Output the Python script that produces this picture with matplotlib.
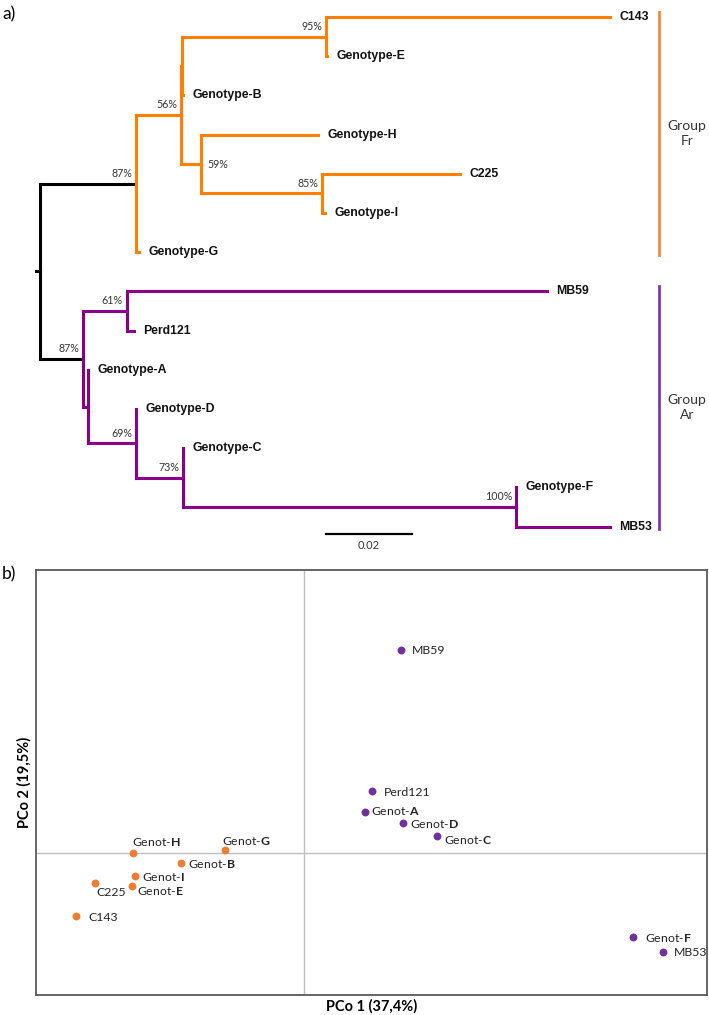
import matplotlib.pyplot as plt

plt.rcParams['mathtext.fontset'] = 'custom'
plt.rcParams['mathtext.rm'] = 'Lato'
plt.rcParams['mathtext.bf'] = 'Lato:bold'

# ---- a) neighbour-joining tree: (name, branch length, support, children)
tree = ("root", 0.001, "", [
    ("fr", 0.0223, "87", [
        ("n56", 0.0105, "56", [
            ("nB", 0.0003, "", [
                ("n95", 0.0334, "95", [("C143", 0.0660, "", []),
                                       ("Genotype-E", 0.0002, "", [])]),
                ("Genotype-B", 0.0002, "", [])]),
            ("n59", 0.0047, "59", [
                ("Genotype-H", 0.0272, "", []),
                ("n85", 0.0281, "85", [("C225", 0.0321, "", []),
                                       ("Genotype-I", 0.0007, "", [])])])]),
        ("Genotype-G", 0.0007, "", [])]),
    ("ar", 0.0100, "87", [
        ("n61", 0.0102, "61", [("MB59", 0.0977, "", []),
                               ("Perd121", 0.0016, "", [])]),
        ("nA", 0.0012, "", [
            ("Genotype-A", 0.0, "", []),
            ("n69", 0.0112, "69", [
                ("Genotype-D", 0.0, "", []),
                ("n73", 0.0109, "73", [
                    ("Genotype-C", 0.0, "", []),
                    ("n100", 0.0774, "100", [("Genotype-F", 0.0, "", []),
                                             ("MB53", 0.0219, "", [])])])])])]),
])
groups = ["Group\nFr", "Group\nAr"]
group_tips = [("C143", "Genotype-G"), ("MB59", "MB53")]
scale_len = 0.02

# ---- b) PCoA coordinates
orange_names = ["Genot-H", "Genot-G", "Genot-B", "Genot-I", "Genot-E", "C225", "C143"]
orange_x = [-0.171, -0.079, -0.123, -0.169, -0.172, -0.209, -0.228]
orange_y = [0.000, 0.003, -0.010, -0.023, -0.033, -0.030, -0.063]
purple_names = ["MB59", "Perd121", "Genot-A", "Genot-D", "Genot-C", "Genot-F", "MB53"]
purple_x = [0.097, 0.068, 0.061, 0.099, 0.133, 0.329, 0.359]
purple_y = [0.203, 0.062, 0.041, 0.030, 0.017, -0.084, -0.099]

TREE_OR = "#FF8000"
TREE_PU = "#8B008B"
PT_OR = "#ED7D31"
PT_PU = "#7030A0"

W, H = 709, 1015
fig = plt.figure(figsize=(W / 100, H / 100), dpi=100)

# top axes, x in substitutions/site, y in tip index
ax = fig.add_axes([0, 1 - 560 / H, 1, 560 / H])
ax.set_xlim(-40 / 4300, 669 / 4300)
ax.set_ylim((560 - 17) / 39.2, -17 / 39.2)
ax.axis("off")

tip_y = {}
counter = [0]


def layout(node, x0):
    name, bl, sup, kids = node
    x = x0 + bl
    pos = {"x": x, "kids": []}
    if not kids:
        pos["y"] = counter[0]
        tip_y[name] = counter[0]
        counter[0] += 1
    else:
        for k in kids:
            pos["kids"].append(layout(k, x))
        pos["y"] = (pos["kids"][0]["y"] + pos["kids"][-1]["y"]) / 2
    pos["node"] = node
    pos["x0"] = x0
    return pos


LW = 2.2


def draw(p, color, branch_color):
    name, bl, sup, kids = p["node"]
    ax.plot([p["x0"], p["x"]], [p["y"], p["y"]], color=branch_color, lw=LW,
            solid_capstyle="projecting")
    if not kids:
        ax.annotate(name, (p["x"], p["y"]), xytext=(6.8, 0), textcoords="offset points",
                    ha="left", va="center", fontsize=8.8, fontweight="bold",
                    family="Liberation Sans", color="#111111")
        return
    ys = [k["y"] for k in p["kids"]]
    ax.plot([p["x"], p["x"]], [min(ys), max(ys)], color=color, lw=LW,
            solid_capstyle="projecting")
    if sup:
        if sup == "59":
            ax.annotate(sup + "%", (p["x"], p["y"]), xytext=(4.3, 0),
                        textcoords="offset points", ha="left", va="center",
                        fontsize=7.7, family="Lato", color="#333333")
        else:
            ax.annotate(sup + "%", (p["x"], p["y"]), xytext=(-2.8, 7.2),
                        textcoords="offset points", ha="right", va="center",
                        fontsize=7.7, family="Lato", color="#333333")
    for k in p["kids"]:
        kname = k["node"][0]
        if kname == "fr":
            draw(k, TREE_OR, "black")
        elif kname == "ar":
            draw(k, TREE_PU, "black")
        else:
            draw(k, color, color)


root = layout(tree, 0.0 - 0.001)
draw(root, "black", "black")

# group bars
bar_x = 659 / W
for (t0, t1), lab, c in zip(group_tips, groups, ["#F28A30", "#7A3AB0"]):
    ya, yb = tip_y[t0] - 0.13, tip_y[t1] + 0.06
    ax.plot([bar_x, bar_x], [ya, yb], color=c, lw=2.0,
            transform=ax.get_yaxis_transform())
    ax.text(687 / W, (ya + yb) / 2, lab, transform=ax.get_yaxis_transform(),
            ha="center", va="center", fontsize=10, family="Lato",
            color="#333333", linespacing=1.3)

# scale bar
sx0 = (326 - 40) / 4300
sy = (534 - 17) / 39.2
ax.plot([sx0, sx0 + scale_len], [sy, sy], color="black", lw=1.6)
ax.text(sx0 + scale_len / 2, sy + 0.3, "0.02", ha="center", va="center",
        fontsize=8, family="Lato", color="#333333")

fig.text(2 / W, 1 - 14 / H, "a)", fontsize=12.5, family="Lato", va="center", ha="left")
fig.text(2 / W, 1 - 574 / H, "b)", fontsize=12.5, family="Lato", va="center", ha="left")

# ---- bottom PCoA panel
bx = fig.add_axes([36 / W, 1 - 995 / H, (707 - 36) / W, (995 - 570) / H])
bx.set_xlim(-0.268, 0.403)
bx.set_ylim(-0.142, 0.283)
bx.axhline(0, color="#BFBFBF", lw=1.0, zorder=0)
bx.axvline(0, color="#BFBFBF", lw=1.0, zorder=0)
for s in bx.spines.values():
    s.set_color("#595959")
    s.set_linewidth(1.3)
bx.set_xticks([])
bx.set_yticks([])
bx.scatter(orange_x, orange_y, s=32, color=PT_OR, zorder=3, linewidths=0)
bx.scatter(purple_x, purple_y, s=32, color=PT_PU, zorder=3, linewidths=0)

# label offsets in points (dx, dy)
offsets = {
    "Genot-H": (-0.7, 8), "Genot-G": (-2.2, 6.5), "Genot-B": (5, -0.7),
    "Genot-I": (5, -1), "Genot-E": (3.6, -3.6), "C225": (0.7, -6.5),
    "C143": (8.6, -1), "MB59": (8, -0.7), "Perd121": (8.6, -1.4),
    "Genot-A": (4.3, 0.7), "Genot-D": (5, -1), "Genot-C": (5, -2.9),
    "Genot-F": (8.6, -0.7), "MB53": (8, -0.7),
}


def fmt(n):
    if n.startswith("Genot-"):
        return "Genot-$\\mathbf{" + n[-1] + "}$"
    return n


for names, xs, ys in [(orange_names, orange_x, orange_y),
                      (purple_names, purple_x, purple_y)]:
    for n, x, y in zip(names, xs, ys):
        bx.annotate(fmt(n), (x, y), xytext=offsets[n], textcoords="offset points",
                    ha="left", va="center", fontsize=8.8, family="Lato",
                    color="#222222")

bx.set_xlabel("PCo 1 (37,4%)", fontsize=10.5, fontweight="bold", family="Lato",
              labelpad=3)
bx.set_ylabel("PCo 2 (19,5%)", fontsize=10.5, fontweight="bold", family="Lato",
              labelpad=3)

fig.savefig("out.png", dpi=100)
